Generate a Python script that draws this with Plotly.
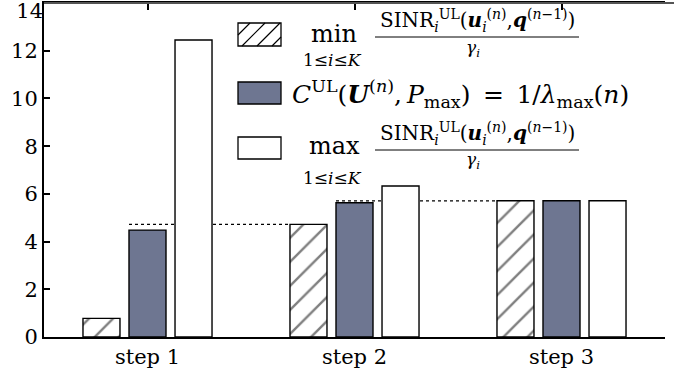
import plotly.graph_objects as go

# ---------------- data ----------------
categories = ["step 1", "step 2", "step 3"]
min_ratio = [0.78, 4.72, 5.71]      # hatched bars
capacity = [4.48, 5.63, 5.71]       # blue bars
max_ratio = [12.45, 6.33, 5.71]     # white bars
y_ticks = [0, 2, 4, 6, 8, 10, 12]
y_top_tick = [14]

# ---------------- style ----------------
FONT = "DejaVu Serif"
BLUE = "#6e7691"
W, H = 676, 376
ML, MR, MT, MB = 44, 11, 3, 39
BARGAP, BARGROUPGAP = 0.333, 0.196
Y_RANGE = [0, 14.0005]

fig = go.Figure()
bar_line = dict(color="black", width=1.4)
fig.add_trace(go.Bar(x=categories, y=min_ratio, name="min",
                     marker=dict(color="white", line=bar_line,
                                 pattern=dict(shape="/", fgcolor="black", bgcolor="white",
                                              size=17, solidity=0.14))))
fig.add_trace(go.Bar(x=categories, y=capacity, name="cap",
                     marker=dict(color=BLUE, line=bar_line)))
fig.add_trace(go.Bar(x=categories, y=max_ratio, name="max",
                     marker=dict(color="white", line=bar_line)))
# empty trace that anchors the overlay axis carrying the top tick label
fig.add_trace(go.Scatter(x=[categories[0]], y=y_top_tick, yaxis="y2", mode="none",
                         hoverinfo="skip", showlegend=False))

# dotted guide lines: level of next step's min, from blue bar to next hatched bar
slot = (1 - BARGAP) / 3
half = slot * (1 - BARGROUPGAP) / 2
shapes = []
for i in range(len(categories) - 1):
    shapes.append(dict(type="line", xref="x", yref="y", layer="below",
                       x0=i - half, x1=(i + 1) - slot - half,
                       y0=min_ratio[i + 1], y1=min_ratio[i + 1],
                       line=dict(color="black", width=1.2, dash="dot")))

pw, ph = W - ML - MR, H - MT - MB
def px(x):
    return (x - ML) / pw
def py(y):
    return (H - MB - y) / ph

# top frame line (gray)
shapes.append(dict(type="line", xref="paper", yref="paper", layer="above",
                   x0=0, x1=px(674), y0=1, y1=1,
                   line=dict(color="#555555", width=2)))

# legend swatches
def rect(x0, y0, x1, y1, fill):
    return dict(type="rect", xref="paper", yref="paper", layer="above",
                x0=px(x0), x1=px(x1), y0=py(y1), y1=py(y0),
                fillcolor=fill, line=dict(color="black", width=1.3))

sx0, sx1 = 238, 281
rows = [(23, 46), (82, 104), (137, 159)]
shapes.append(rect(sx0, rows[0][0], sx1, rows[0][1], "white"))
y0, y1 = rows[0]
path = ""
step = 15
for k in range(-3, 6):
    xa, ya = sx0 + k * step + 4, y1
    xb, yb = xa + (y1 - y0), y0
    if xa < sx0:
        ya = ya - (sx0 - xa); xa = sx0
    if xb > sx1:
        yb = yb + (xb - sx1); xb = sx1
    if xa >= sx1 or xb <= sx0 or ya <= y0 or yb >= y1:
        continue
    path += f"M{px(xa)},{py(ya)} L{px(xb)},{py(yb)} "
shapes.append(dict(type="path", xref="paper", yref="paper", layer="above",
                   path=path, line=dict(color="black", width=1.2)))
shapes.append(rect(sx0, rows[1][0], sx1, rows[1][1], BLUE))
shapes.append(rect(sx0, rows[2][0], sx1, rows[2][1], "white"))

# fraction bars
for yl in (37, 150):
    shapes.append(dict(type="line", xref="paper", yref="paper", layer="above",
                       x0=px(375), x1=px(579), y0=py(yl), y1=py(yl),
                       line=dict(color="black", width=1)))

ann = []
def text(x, y, s, size, xanchor="center"):
    ann.append(dict(xref="paper", yref="paper", x=px(x), y=py(y), text=s,
                    showarrow=False, xanchor=xanchor, yanchor="middle",
                    font=dict(family=FONT, size=size, color="black")))

num = ("SINR<sub><i>i</i></sub><sup>UL</sup>(<b><i>u</i></b><sub><i>i</i></sub>"
       "<sup>(<i>n</i>)</sup>,<b><i>q</i></b><sup>(<i>n</i>−1)</sup>)")
den = "<i>γ</i><sub><i>i</i></sub>"
sub = "1≤<i>i</i>≤<i>K</i>"

text(334, 34, "min", 24)
text(332, 60, sub, 17)
text(477, 20, num, 20)
text(473, 48, den, 17)

text(290, 94, "<i>C</i><sup>UL</sup>(<b><i>U</i></b><sup>(<i>n</i>)</sup>,\u2009<i>P</i><sub>max</sub>)\u2002=\u20021/<i>λ</i><sub>max</sub>(<i>n</i>)",
     25, xanchor="left")

text(334, 146, "max", 24)
text(332, 178, sub, 17)
text(477, 133, num, 20)
text(473, 161, den, 17)

fig.update_layout(
    width=W, height=H,
    margin=dict(l=ML, r=MR, t=MT, b=MB, pad=0, autoexpand=False),
    paper_bgcolor="white", plot_bgcolor="white",
    barmode="group", bargap=BARGAP, bargroupgap=BARGROUPGAP,
    showlegend=False,
    font=dict(family=FONT, size=21, color="black"),
    shapes=shapes, annotations=ann,
    xaxis=dict(type="category", range=[-0.5, 2.5], showgrid=False,
               showline=True, linecolor="black", linewidth=2,
               ticks="inside", ticklen=7, tickcolor="black", tickwidth=1.5,
               mirror="ticks", layer="below traces", automargin=False,
               tickfont=dict(family=FONT, size=21, color="black")),
    yaxis=dict(range=Y_RANGE, tickvals=y_ticks, showgrid=False, zeroline=False,
               showline=True, linecolor="black", linewidth=2,
               ticks="inside", ticklen=6, tickcolor="black", tickwidth=1.5,
               ticklabeloverflow="allow", automargin=False,
               tickfont=dict(family=FONT, size=21, color="black")),
    yaxis2=dict(range=Y_RANGE, tickvals=y_top_tick, overlaying="y", anchor="x",
                side="left", showgrid=False, zeroline=False, showline=False,
                ticks="", ticklabelshift=8, ticklabeloverflow="allow",
                automargin=False,
                tickfont=dict(family=FONT, size=21, color="black")),
)

fig.write_html("out.html")
